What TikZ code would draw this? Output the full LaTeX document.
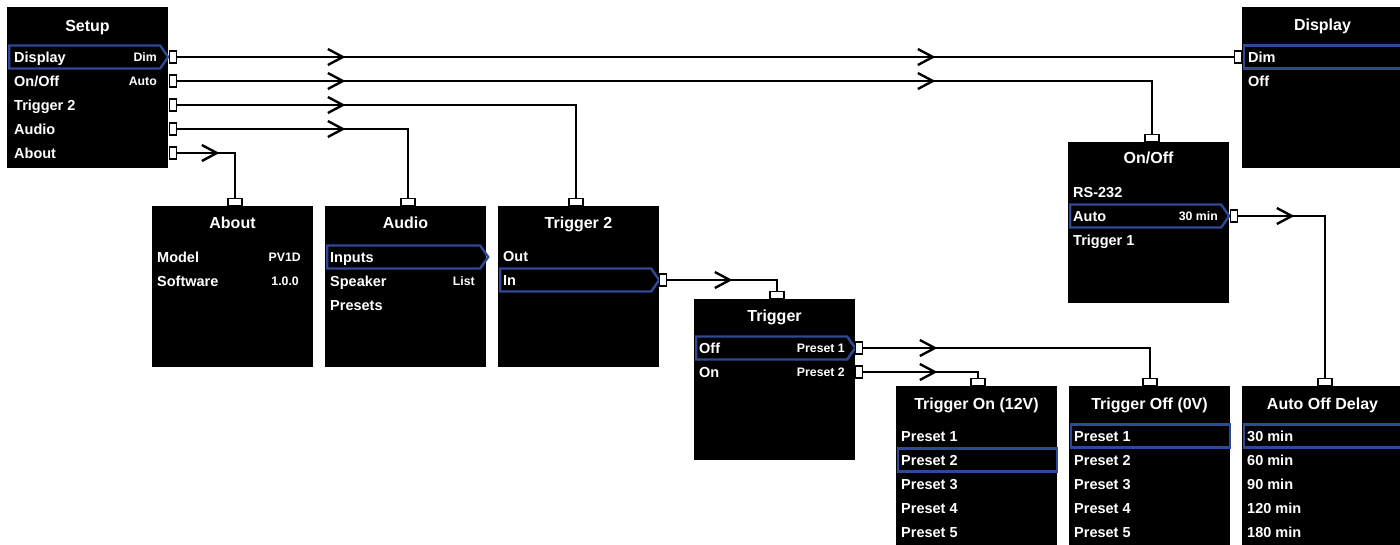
\documentclass[tikz,border=0pt]{standalone}
\usepackage{fontspec}
\setmainfont{Liberation Sans}
\usetikzlibrary{arrows.meta,shapes.symbols,decorations.markings}
\definecolor{selblue}{RGB}{46,74,150}

\begin{document}
\begin{tikzpicture}[x=1pt, y=-1pt,
    menu/.style={rectangle, fill=black, anchor=north west, minimum width=161, minimum height=161, inner sep=0},
    title/.style={text=white, inner sep=0, text height=11.5, text depth=0, font=\bfseries\fontsize{16}{18}\selectfont},
    item/.style={text=white, anchor=west, inner sep=0, text height=10.4, text depth=0, font=\bfseries\fontsize{14.5}{16}\selectfont},
    val/.style={item, anchor=east, text height=8.8, font=\bfseries\fontsize{12.3}{14}\selectfont},
    sel/.style={draw=selblue, line width=2.4, anchor=west, minimum height=23, minimum width=159, inner sep=0},
    selarrow/.style={sel, signal, signal to=east, signal pointer angle=110},
    port/.style={draw, fill=white, line width=1.8, minimum width=7, minimum height=12, inner sep=0},
    topport/.style={port, minimum width=14, minimum height=7},
    link/.style={line width=2.4},
    barb/.style={postaction={decorate, decoration={markings, mark=at position #1 with {\arrow{Straight Barb[length=15pt,width=16pt]}}}}}]
    \useasboundingbox (0,0) rectangle (1400,544);

    % Setup
    \node[menu] (setup) at (7,7) {};
    \node[title] (setupT) at (87.5,26) {Setup};
    \node[selarrow] (setDispSel) at (8,57) {};
    \node[item] (setDisp) at (14,57) {Display};
    \node[val] (setDispV) at (157,57) {Dim};
    \node[item] (setOnOff) at (14,81) {On/Off};
    \node[val] (setOnOffV) at (157,81) {Auto};
    \node[item] (setTrig) at (14,105) {Trigger 2};
    \node[item] (setAudio) at (14,129) {Audio};
    \node[item] (setAbout) at (14,153) {About};
    \node[port] (setDispP) at (173,57) {};
    \node[port] (setOnOffP) at (173,81) {};
    \node[port] (setTrigP) at (173,105) {};
    \node[port] (setAudioP) at (173,129) {};
    \node[port] (setAboutP) at (173,153) {};

    % About
    \node[menu] (about) at (152,206) {};
    \node[title] (aboutT) at (232.5,223) {About};
    \node[item] (aboutModel) at (157,257) {Model};
    \node[val] (aboutModelV) at (301,257) {PV1D};
    \node[item] (aboutSoft) at (157,281) {Software};
    \node[val] (aboutSoftV) at (299,281) {1.0.0};
    \node[topport] (aboutTop) at (235,202) {};

    % Audio
    \node[menu] (audio) at (325,206) {};
    \node[title] (audioT) at (405.5,223) {Audio};
    \node[selarrow, minimum width=161] (audioInSel) at (326,257) {};
    \node[item] (audioIn) at (330,257) {Inputs};
    \node[item] (audioSpk) at (330,281) {Speaker};
    \node[val] (audioSpkV) at (475,281) {List};
    \node[item] (audioPre) at (330,305) {Presets};
    \node[topport] (audioTop) at (408,202) {};

    % Trigger 2
    \node[menu] (trig2) at (498,206) {};
    \node[title] (trig2T) at (578.5,223) {Trigger 2};
    \node[item] (trig2Out) at (503,256) {Out};
    \node[selarrow] (trig2InSel) at (499,280) {};
    \node[item] (trig2In) at (503,280) {In};
    \node[port] (trig2InP) at (663,280) {};
    \node[topport] (trig2Top) at (576,202) {};

    % Trigger
    \node[menu] (trig) at (694,299) {};
    \node[title] (trigT) at (774.5,316) {Trigger};
    \node[selarrow] (trigOffSel) at (695,348) {};
    \node[item] (trigOff) at (699,348) {Off};
    \node[val] (trigOffV) at (845,348) {Preset 1};
    \node[item] (trigOn) at (699,372) {On};
    \node[val] (trigOnV) at (845,372) {Preset 2};
    \node[port] (trigOffP) at (859,348) {};
    \node[port] (trigOnP) at (859,372) {};
    \node[topport] (trigTop) at (777,295) {};

    % Trigger On (12V)
    \node[menu] (ton) at (896,386) {};
    \node[title] (tonT) at (976.5,404) {Trigger On (12V)};
    \node[sel] (tonSel) at (897,460) {};
    \node[item] (ton1) at (901,436) {Preset 1};
    \node[item] (ton2) at (901,460) {Preset 2};
    \node[item] (ton3) at (901,484) {Preset 3};
    \node[item] (ton4) at (901,508) {Preset 4};
    \node[item] (ton5) at (901,532) {Preset 5};
    \node[topport] (tonTop) at (978,382) {};

    % Trigger Off (0V)
    \node[menu] (toff) at (1069,386) {};
    \node[title] (toffT) at (1149.5,404) {Trigger Off (0V)};
    \node[sel] (toffSel) at (1070,436) {};
    \node[item] (toff1) at (1074,436) {Preset 1};
    \node[item] (toff2) at (1074,460) {Preset 2};
    \node[item] (toff3) at (1074,484) {Preset 3};
    \node[item] (toff4) at (1074,508) {Preset 4};
    \node[item] (toff5) at (1074,532) {Preset 5};
    \node[topport] (toffTop) at (1150,382) {};

    % Auto Off Delay
    \node[menu] (delay) at (1242,386) {};
    \node[title] (delayT) at (1322.5,404) {Auto Off Delay};
    \node[sel, minimum width=161] (delaySel) at (1243,436) {};
    \node[item] (delay30) at (1247,436) {30 min};
    \node[item] (delay60) at (1247,460) {60 min};
    \node[item] (delay90) at (1247,484) {90 min};
    \node[item] (delay120) at (1247,508) {120 min};
    \node[item] (delay180) at (1247,532) {180 min};
    \node[topport] (delayTop) at (1325,382) {};

    % On/Off
    \node[menu] (onoff) at (1068,142) {};
    \node[title] (onoffT) at (1148.5,158) {On/Off};
    \node[item] (onoffRs) at (1073,192) {RS-232};
    \node[selarrow] (onoffAutoSel) at (1069,216) {};
    \node[item] (onoffAuto) at (1073,216) {Auto};
    \node[val] (onoffAutoV) at (1218,216) {30 min};
    \node[item] (onoffTrig) at (1073,240) {Trigger 1};
    \node[port] (onoffAutoP) at (1234,216) {};
    \node[topport] (onoffTop) at (1152,138) {};

    % Display
    \node[menu] (disp) at (1242,7) {};
    \node[title] (dispT) at (1322.5,25) {Display};
    \node[sel, minimum width=161] (dispDimSel) at (1243,57) {};
    \node[item] (dispDim) at (1248,57) {Dim};
    \node[item] (dispOff) at (1248,81) {Off};
    \node[port] (dispInP) at (1238,57) {};

    \draw[link, barb=168pt, barb=758pt] (setDispP.east) -- (dispInP.west);
    \draw[link, barb=168pt, barb=758pt] (setOnOffP.east) -| (onoffTop.north);
    \draw[link, barb=168pt] (setTrigP.east) -| (trig2Top.north);
    \draw[link, barb=168pt] (setAudioP.east) -| (audioTop.north);
    \draw[link, barb=42pt] (setAboutP.east) -| (aboutTop.north);
    \draw[link, barb=65pt] (trig2InP.east) -| (trigTop.north);
    \draw[link, barb=74pt] (trigOffP.east) -| (toffTop.north);
    \draw[link, barb=74pt] (trigOnP.east) -| (tonTop.north);
    \draw[link, barb=56pt] (onoffAutoP.east) -| (delayTop.north);
\end{tikzpicture}
\end{document}
